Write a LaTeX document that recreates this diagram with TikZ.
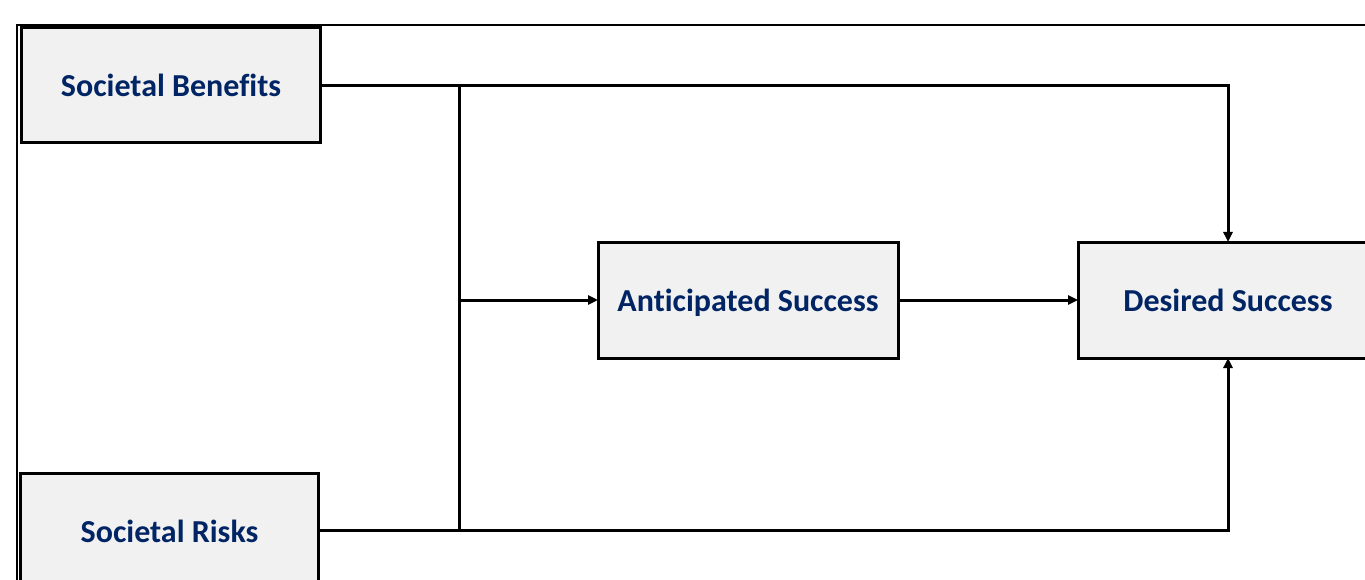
\documentclass[tikz,border=0pt]{standalone}
\usepackage{fontspec}
\setmainfont{Carlito}[Ligatures=CommonOff]
\usetikzlibrary{arrows.meta}
\definecolor{navy}{RGB}{0,36,100}
\definecolor{boxfill}{RGB}{241,241,241}
\tikzset{
  box/.style={draw=black, line width=3bp, fill=boxfill, minimum width=298bp, minimum height=115bp,
    inner sep=0pt, outer sep=0pt, text height=23bp, text depth=0bp,
    font=\fontsize{32bp}{36bp}\selectfont\bfseries, text=navy},
  conn/.style={line width=3bp, line cap=rect},
  arr/.style={line width=3bp, -{Triangle[length=10bp,width=9bp]}}
}
\begin{document}
\begin{tikzpicture}[x=1bp,y=-1bp]
\useasboundingbox (0,0) rectangle (1365,580);
\clip (0,0) rectangle (1365,580);
\draw[line width=1.6bp] (17,600) -- (17,25) -- (1400,25);
\node[box] (ben) at (171,85.5) {Societal Benefits};
\node[box] (risk) at (169.5,530.5) {Societal Risks};
\node[box, minimum width=300bp, minimum height=116bp] (ant) at (748,300) {Anticipated Success};
\node[box, minimum width=300bp, minimum height=116bp] (des) at (1228,300) {Desired Success};
\coordinate (j1) at (459,85.5);
\coordinate (j2) at (459,530.5);
\coordinate (j3) at (459,300);
\draw[arr] (ben.east) -| (des.north);
\draw[arr] (risk.east) -| (des.south);
\draw[conn] (j1) -- (j2);
\draw[arr] (j3) -- (ant.west);
\draw[arr] (ant.east) -- (des.west);
\end{tikzpicture}
\end{document}
